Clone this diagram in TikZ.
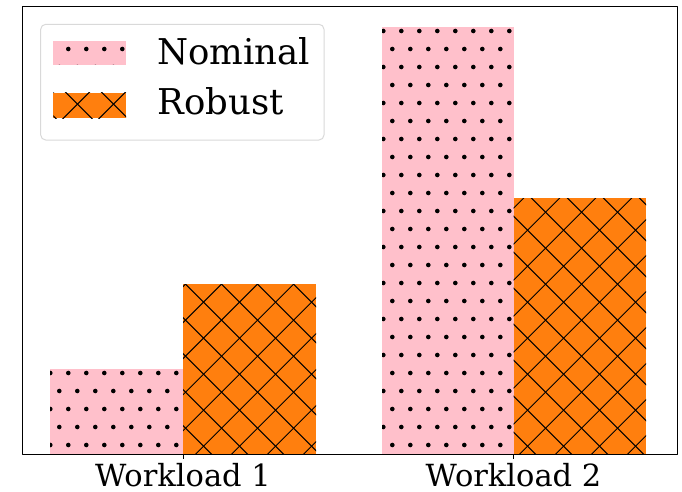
\documentclass[tikz,border=0pt]{standalone}
\usepackage{fontspec}
\setmainfont{DejaVu Serif}
\definecolor{nompink}{HTML}{FFC0CB}
\definecolor{roborange}{HTML}{FF7F0E}
\begin{document}
\begin{tikzpicture}[x=1pt, y=-1pt, line join=round,
	ticklab/.style={anchor=base, inner sep=0pt, font=\fontsize{30.5}{36}\selectfont},
	leglab/.style={anchor=base west, inner sep=0pt, font=\fontsize{35.5}{42}\selectfont},
	legbox/.style={draw=black!15, line width=1pt, fill=white, rounded corners=5pt}]
	\useasboundingbox (0,0) rectangle (682,492);
	\def\ybot{454} % truc x
	% o cham (Nominal)
	\def\dotbox#1#2#3#4{%
		\fill[nompink] (#1,#2) rectangle (#3,#4);
		\begin{scope}
			\clip (#1,#2) rectangle (#3,#4);
			\foreach \m in {0,...,25}{
				\pgfmathsetmacro\xo{5.3+9*mod(\m,2)}
				\foreach \j in {0,...,37}
					\fill (\xo+18*\j,31+18*\m) circle (2.3pt);}
		\end{scope}}
	% o luoi cheo (Robust)
	\def\crossbox#1#2#3#4{%
		\fill[roborange] (#1,#2) rectangle (#3,#4);
		\begin{scope}
			\clip (#1,#2) rectangle (#3,#4);
			\foreach \k in {0,...,33} \draw[line width=1pt] (1.7+36*\k,0)--++(-500,500);
			\foreach \k in {-14,...,19} \draw[line width=1pt] (9.3+36*\k,0)--++(500,500);
		\end{scope}}
	\dotbox{50}{369}{183}{\ybot}
	\crossbox{183}{284}{316}{\ybot}
	\dotbox{382}{27.5}{513.5}{\ybot}
	\crossbox{513.5}{198}{646}{\ybot}
	\draw[line width=1pt] (22,7) rectangle (677,\ybot);
	\draw[line width=0.8pt] (183,\ybot)--++(0,5) (513.5,\ybot)--++(0,5);
	\node[ticklab] (wl1) at (183,486.7) {Workload 1};
	\node[ticklab] (wl2) at (513.5,486.7) {Workload 2};
	% chu thich
	\draw[legbox] (40.7,24.3) rectangle (324,140);
	\dotbox{53.3}{40.7}{126}{65}
	\crossbox{53.3}{92.7}{126}{118.3}
	\node[leglab] (nom) at (157.3,65) {Nominal};
	\node[leglab] (rob) at (157.3,115) {Robust};
\end{tikzpicture}
\end{document}
